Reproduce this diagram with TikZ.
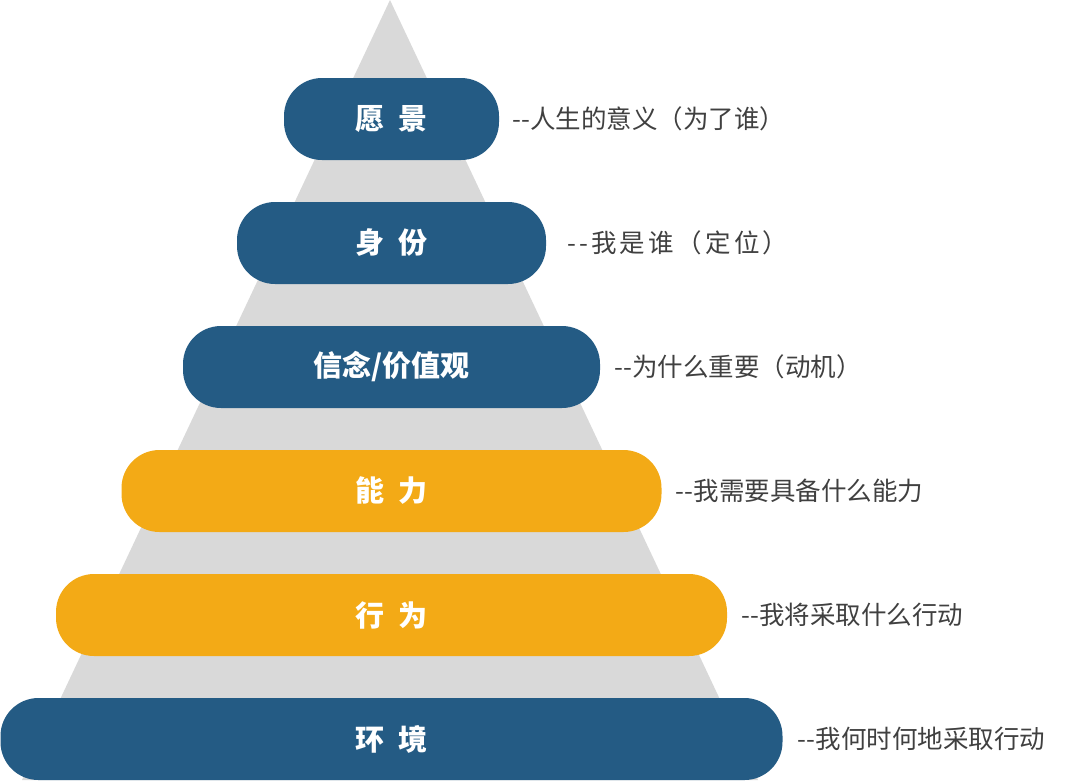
\documentclass[tikz,border=0pt]{standalone}
\usepackage{fontspec}
\setmainfont{Noto Sans CJK SC}
\usetikzlibrary{positioning}
\definecolor{tierblue}{HTML}{245B84}
\definecolor{tierorange}{HTML}{F3AA16}
\definecolor{pyramidgray}{HTML}{D9D9D9}
\definecolor{notegray}{HTML}{404040}
\tikzset{
  tier/.style={rounded corners=38pt, minimum height=82pt, inner sep=0pt, text=white, font=\bfseries\fontsize{29}{29}\selectfont},
  note/.style={inner sep=0pt, text=notegray, font=\fontsize{25.5}{25.5}\selectfont}
}
\newcommand{\tier}[7]{\node[tier, fill=#4, minimum width=#3pt] (#1) at (391.5,#2) {#5}; \node[note, right=#7pt of #1] (#1-note) {#6};}

\begin{document}
\begin{tikzpicture}[x=1pt, y=-1pt]
  \useasboundingbox (0,0) rectangle (1068,780);
  \fill[pyramidgray] (390,0) -- (22,780) -- (758,780) -- cycle;
  \tier{vision}     {119}{215}{tierblue}  {愿\enspace 景}{-{}-人生的意义（为了谁）}{13}
  \tier{identity}   {243}{309}{tierblue}  {身\enspace 份}{\addfontfeature{LetterSpace=12}-{}-我是谁（定位）}{21}
  \tier{belief}     {367}{417}{tierblue}  {信念/价值观}{-{}-为什么重要（动机）}{14}
  \tier{ability}    {491}{540}{tierorange}{能\enspace 力}{-{}-我需要具备什么能力}{14}
  \tier{behavior}   {615}{671}{tierorange}{行\enspace 为}{-{}-我将采取什么行动}{14}
  \tier{environment}{739}{782}{tierblue}  {环\enspace 境}{-{}-我何时何地采取行动}{15}
\end{tikzpicture}
\end{document}
